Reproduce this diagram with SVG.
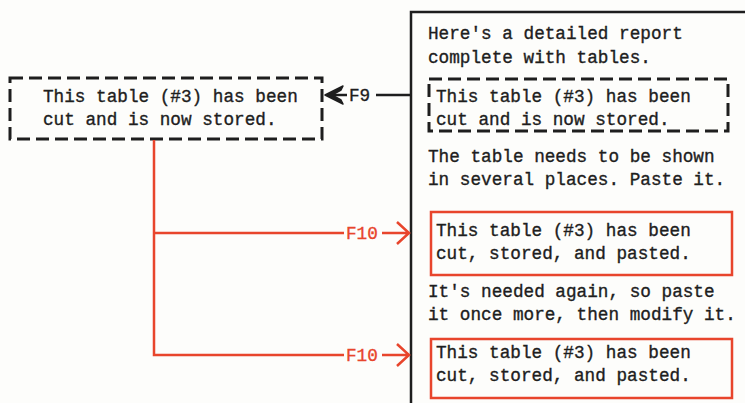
<svg xmlns="http://www.w3.org/2000/svg" width="745" height="403" viewBox="0 0 745 403">
<style>
.t{font-family:"Liberation Mono","Courier New",monospace;font-size:17.7px;fill:#1e1e1e;stroke:#1e1e1e;stroke-width:0.35}
.r{font-family:"Liberation Mono","Courier New",monospace;font-size:17.7px;fill:#e8452c;stroke:#e8452c;stroke-width:0.35}
.dash{fill:none;stroke:#1e1e1e;stroke-width:3;stroke-dasharray:13 6}
.red{fill:none;stroke:#e8452c;stroke-width:2.5}
.blk{fill:none;stroke:#1e1e1e;stroke-width:2.5}
</style>
<rect width="745" height="403" fill="#fdfdfb"/>
<g id="stored">
<rect class="dash" x="10" y="78" width="312" height="61"/>
<text class="t" x="43" y="102">This table (#3) has been</text>
<text class="t" x="43" y="125">cut and is now stored.</text>
</g>
<g id="report">
<path class="blk" d="M411,403 V12 H745"/>
<text class="t" x="428" y="39">Here's a detailed report</text>
<text class="t" x="428" y="63">complete with tables.</text>
</g>
<g id="cut-table">
<rect class="dash" x="429" y="79" width="299" height="52"/>
<text class="t" x="436" y="102">This table (#3) has been</text>
<text class="t" x="436" y="125">cut and is now stored.</text>
</g>
<g id="note1">
<text class="t" x="428" y="162">The table needs to be shown</text>
<text class="t" x="428" y="185">in several places. Paste it.</text>
</g>
<g id="paste1">
<rect class="red" x="431" y="212" width="301" height="63"/>
<text class="t" x="436" y="236">This table (#3) has been</text>
<text class="t" x="436" y="259">cut, stored, and pasted.</text>
</g>
<g id="note2">
<text class="t" x="428" y="297">It's needed again, so paste</text>
<text class="t" x="428" y="320">it once more, then modify it.</text>
</g>
<g id="paste2">
<rect class="red" x="431" y="339" width="301" height="59"/>
<text class="t" x="436" y="358">This table (#3) has been</text>
<text class="t" x="436" y="381">cut, stored, and pasted.</text>
</g>
<g id="connectors">
<path class="blk" d="M376,95 H411"/>
<path class="blk" d="M330,95 H347"/>
<path d="M325,95 L343,86 L341,90 L332,95 L341,100 L343,104 Z" fill="#1e1e1e" stroke="#1e1e1e" stroke-width="1.5" stroke-linejoin="round"/>
<text class="t" x="349" y="101">F9</text>
<path class="red" d="M154,140 V355 H344 M154,233 H344"/>
<path class="red" d="M382,233 H408 M397,222 L409,233 L397,244"/>
<path class="red" d="M382,355 H408 M397,344 L409,355 L397,366"/>
<text class="r" x="346" y="239">F10</text>
<text class="r" x="346" y="361">F10</text>
</g>
</svg>
